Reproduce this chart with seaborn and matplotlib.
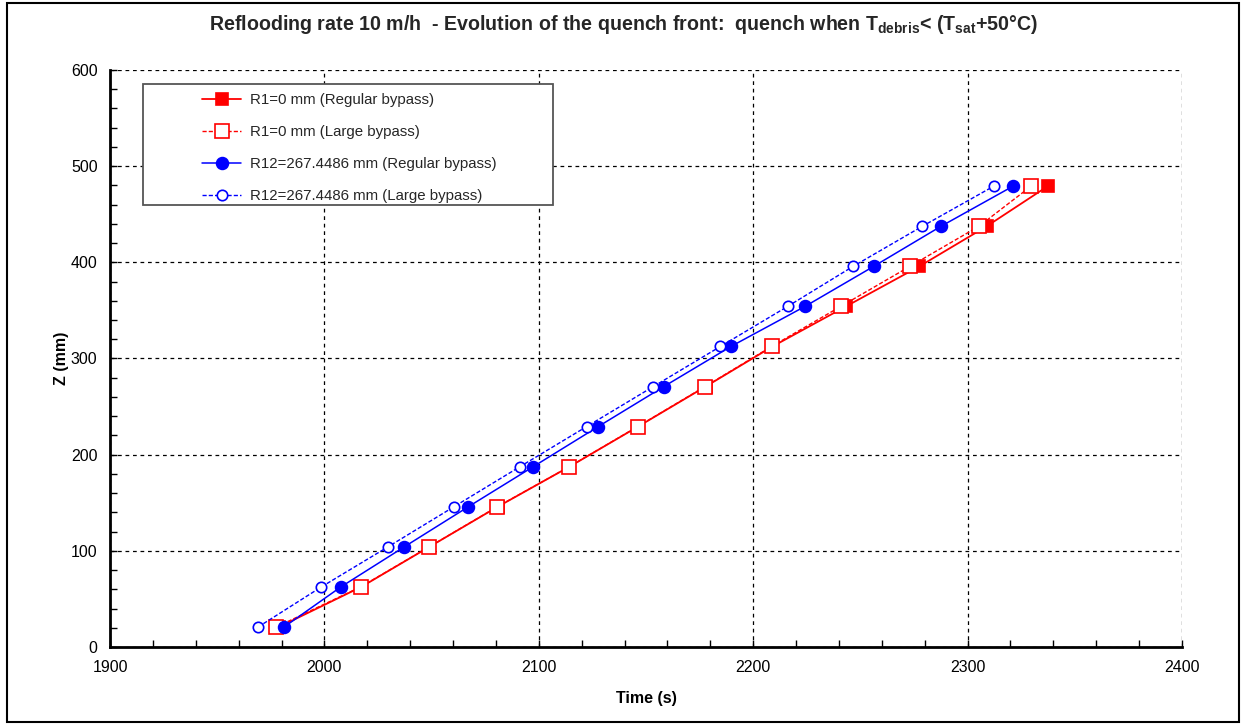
import numpy as np
import pandas as pd
import matplotlib
matplotlib.use("Agg")
import matplotlib.pyplot as plt
from matplotlib.patches import Rectangle
from matplotlib.ticker import MultipleLocator
import seaborn as sns

# Quench front elevation (mm)
z_mm = [20.8, 62.5, 104.2, 145.8, 187.5, 229.2, 270.8, 312.5, 354.2, 395.8, 437.5, 479.2]

# Quench time (s) for each case
t_r1_regular = [1978.8, 2017.2, 2049.0, 2080.8, 2114.3, 2146.3, 2177.8, 2209.0, 2243.3, 2277.5, 2308.9, 2337.4]
t_r1_large = [1977.6, 2016.9, 2048.9, 2080.6, 2114.2, 2146.1, 2177.5, 2208.6, 2240.9, 2273.1, 2305.3, 2329.6]
t_r12_regular = [1981.2, 2007.7, 2037.3, 2067.1, 2097.4, 2127.7, 2158.3, 2189.6, 2224.2, 2256.2, 2287.6, 2321.2]
t_r12_large = [1969.1, 1998.6, 2029.7, 2060.4, 2091.2, 2122.3, 2153.4, 2184.7, 2216.1, 2246.6, 2278.9, 2312.2]

labels = [
    "R1=0 mm (Regular bypass)",
    "R1=0 mm (Large bypass)",
    "R12=267.4486 mm (Regular bypass)",
    "R12=267.4486 mm (Large bypass)",
]

sns.set_theme(style="white")
plt.rcParams["font.family"] = ["Liberation Sans", "DejaVu Sans"]
plt.rcParams["mathtext.fontset"] = "custom"
plt.rcParams["mathtext.rm"] = "Liberation Sans:bold"
plt.rcParams["mathtext.default"] = "rm"

fig = plt.figure(figsize=(12.43, 7.25), dpi=100)
ax = fig.add_axes([110 / 1243, 1 - 647 / 725, 1072 / 1243, 577 / 725])

red, blue = "#ff0000", "#0000ff"
series = [
    (t_r1_regular, labels[0], red, "-", "s", red, 8.5, 1.3),
    (t_r1_large, labels[1], red, (0, (3, 1.5)), "s", "white", 9.5, 1.0),
    (t_r12_regular, labels[2], blue, "-", "o", blue, 8.5, 1.1),
    (t_r12_large, labels[3], blue, (0, (3, 1.5)), "o", "white", 7.5, 1.0),
]
for t, lab, col, ls, mk, mfc, ms, lw in series:
    df = pd.DataFrame({"t": t, "z": z_mm})
    sns.lineplot(data=df, x="t", y="z", ax=ax, sort=False, estimator=None,
                 color=col, linestyle=ls, linewidth=lw, marker=mk, markersize=ms,
                 markerfacecolor=mfc, markeredgecolor=col, markeredgewidth=1.2,
                 label=lab)

ax.set_xlim(1900, 2400)
ax.set_ylim(0, 600)
ax.xaxis.set_major_locator(MultipleLocator(100))
ax.yaxis.set_major_locator(MultipleLocator(100))
ax.xaxis.set_minor_locator(MultipleLocator(20))
ax.yaxis.set_minor_locator(MultipleLocator(20))
ax.tick_params(which="both", direction="in", length=5, width=1, color="black",
               bottom=True, left=True, top=False, right=False)
ax.tick_params(which="major", labelsize=11.5, pad=9, labelcolor="black")
ax.grid(True, which="major", color="black", linestyle=(0, (3, 3)), linewidth=0.9)
for s in ["top", "right"]:
    ax.spines[s].set_visible(False)
for s in ["left", "bottom"]:
    ax.spines[s].set_color("black")
    ax.spines[s].set_linewidth(2)

ax.set_xlabel("Time (s)", fontsize=11.5, fontweight="bold", color="black", labelpad=12)
ax.set_ylabel("Z (mm)", fontsize=11.5, fontweight="bold", color="black", labelpad=1)

fig.text(0.502, 1 - 25 / 725,
         r"Reflooding rate 10 m/h  - Evolution of the quench front:  quench when T$_{debris}$< (T$_{sat}$+50°C)",
         ha="center", va="center", fontsize=14.1, fontweight="bold")

# legend frame drawn separately (wide left margin like the original)
ax.add_patch(Rectangle((33 / 1072, (647 - 205) / 577), 410 / 1072, 121 / 577,
                       transform=ax.transAxes, facecolor="white", edgecolor="#555555",
                       linewidth=1.3, zorder=4))
leg = ax.legend(loc="upper left", bbox_to_anchor=((202 - 110) / 1072, (647 - 93) / 577),
                frameon=False, fontsize=10.8, handlelength=2.6, handletextpad=0.6,
                labelspacing=1.2, borderpad=0, borderaxespad=0)
leg.set_zorder(5)

# outer figure border
fig.patches.append(Rectangle((7 / 1243, 3 / 725), 1232 / 1243, 719 / 725,
                             transform=fig.transFigure, fill=False,
                             edgecolor="black", linewidth=1.5))

fig.savefig("out.png", dpi=100)
